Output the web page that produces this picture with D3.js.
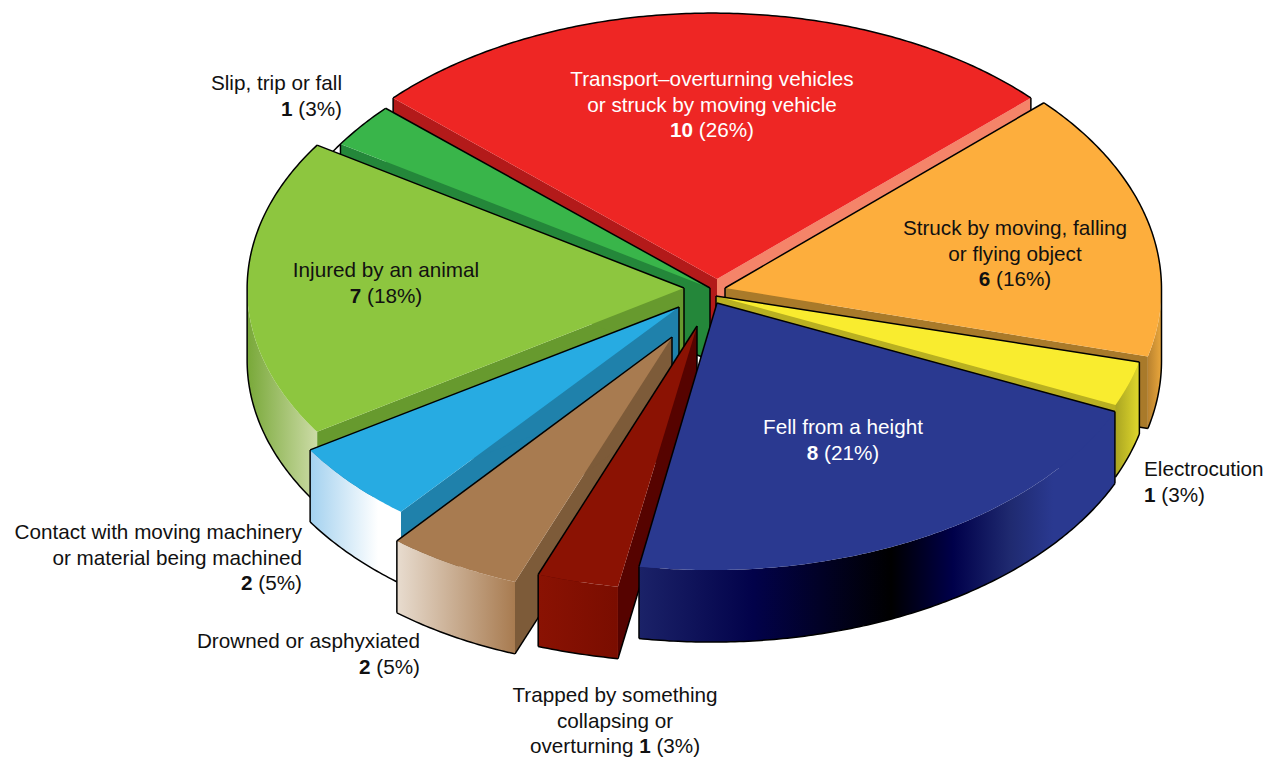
<!DOCTYPE html>
<html>
<head>
<meta charset="utf-8">
<script src="https://cdn.jsdelivr.net/npm/d3@7"></script>
<style>
  html, body { margin: 0; background: #fff; }
  text { font-family: "Liberation Sans", Arial, sans-serif; font-size: 20.7px; }
</style>
</head>
<body>
<div id="chart"></div>
<script>
"use strict";

// clockwise from the top
var causes = ["Transport", "Struck", "Electrocution", "Fell", "Trapped", "Drowned", "Contact", "Animal", "Slip"];
var deaths = [10, 6, 1, 8, 1, 2, 2, 7, 1];

// text lines per slice, the count and percent are appended to the last line
var labelLines = [
  ["Transport\u2013overturning vehicles", "or struck by moving vehicle", ""],
  ["Struck by moving, falling", "or flying object", ""],
  ["Electrocution", ""],
  ["Fell from a height", ""],
  ["Trapped by something", "collapsing or", "overturning "],
  ["Drowned or asphyxiated", ""],
  ["Contact with moving machinery", "or material being machined", ""],
  ["Injured by an animal", ""],
  ["Slip, trip or fall", ""]
];

var topColors  = ["#ee2624", "#fdae3d", "#f9ec2f", "#2a3990", "#8b1203", "#a87b50", "#27abe2", "#8dc63f", "#39b54a"];
var wallStart  = ["#b31a1a", "#a97a2a", "#b9b021", "#2a3990", "#560300", "#7d5b39", "#1f81ab", "#679a2e", "#24873a"];
var wallEnd    = ["#f58469", "#a97a2a", "#b9b021", "#2a3990", "#560300", "#7d5b39", "#1f81ab", "#679a2e", "#24873a"];
var textColors = ["#fff", "#111", "#111", "#fff", "#111", "#111", "#111", "#111", "#111"];

// gradients of the outer wall, left to right
var rimStops = [
  [],
  [[0, "#b9822f"], [1, "#eaa73c"]],
  [[0, "#aaa522"], [1, "#e0d82c"]],
  [[0, "#1b2268"], [0.24, "#02024a"], [0.53, "#000000"], [0.66, "#00004a"], [0.78, "#1f2a70"], [0.87, "#2a3990"], [1, "#2a3990"]],
  [[0, "#8a1203"], [1, "#7a0d00"]],
  [[0, "#e8dccf"], [1, "#a87b50"]],
  [[0, "#a3d1ef"], [0.75, "#ffffff"], [1, "#ffffff"]],
  [[0, "#78a838"], [1, "#ccdba6"]],
  []
];

// how far each slice is pulled from the pie centre, and where its tip sits
var explodeX = [0, 4.5, -4, -0.5, -12, -64.5, -61, -35, 1];
var explodeY = [-14, -1, 4.5, 15, 1, 44, 20, -1.5, 4.5];
var tipX = [5, 8.5, 8, 5.5, -3, 24.5, 28, 7, -3];
var tipY = [3, -1, 1.5, -2, 35, 3, -3, -0.5, -6.5];
var radiusX = [0.974, 1, 1, 0.99, 1.12, 0.917, 0.915, 0.966, 1];
var radiusY = [0.956, 1, 1, 0.964, 1.09, 0.953, 0.93, 0.953, 1];

// paint order, back to front
var paintOrder = [0, 8, 1, 2, 7, 6, 5, 4, 3];

// label anchor: x, baseline of first line, text-anchor
var labelX = [712, 1015, 1144, 843, 615, 420, 302, 386, 342];
var labelY = [86, 235, 476, 434, 702, 648, 539, 277, 90];
var labelAnchor = ["middle", "middle", "start", "middle", "middle", "end", "end", "middle", "end"];
var lineHeight = 25.6;

var width = 1277, height = 758, depth = 72;
var centerX = 712, centerY = 290, rimA = 445, rimB = 275;

var total = d3.sum(deaths);
var startAngle = -Math.PI * deaths[0] / total;
var arcs = d3.pie().sort(null).startAngle(startAngle).endAngle(startAngle + 2 * Math.PI)(deaths);

var xUnit = d3.scaleLinear().domain([-1, 1]).range([centerX - rimA, centerX + rimA]);
var yUnit = d3.scaleLinear().domain([-1, 1]).range([centerY - rimB, centerY + rimB]);
var line = d3.line();

function rimPoint(i, t, drop) {
  return [
    centerX + explodeX[i] + (xUnit(Math.sin(t)) - centerX) * radiusX[i],
    centerY + explodeY[i] + (yUnit(-Math.cos(t)) - centerY) * radiusY[i] + (drop || 0)
  ];
}

function tipPoint(i, drop) {
  return [centerX + explodeX[i] + tipX[i], centerY + explodeY[i] + tipY[i] + (drop || 0)];
}

function sweep(i, from, to, drop) {
  var n = Math.max(2, Math.ceil(Math.abs(to - from) / 0.01));
  return d3.range(n + 1).map(function (k) {
    return rimPoint(i, from + (to - from) * k / n, drop);
  });
}

var svg = d3.select("#chart").append("svg")
  .attr("width", width).attr("height", height)
  .style("display", "block");
var defs = svg.append("defs");

rimStops.forEach(function (stops, i) {
  if (!stops.length) return;
  defs.append("linearGradient").attr("id", "rim" + i)
    .selectAll("stop").data(stops).join("stop")
    .attr("offset", function (d) { return d[0]; })
    .attr("stop-color", function (d) { return d[1]; });
});

function stroke(g, points) {
  g.append("path").attr("d", line(points))
    .attr("fill", "none").attr("stroke", "#000").attr("stroke-width", 1.5)
    .attr("stroke-linejoin", "round");
}

paintOrder.forEach(function (i) {
  var a = arcs[i], t0 = a.startAngle, t1 = a.endAngle;
  var g = svg.append("g").attr("class", "slice " + causes[i]);

  var startShown = Math.sin(t0) < 0, endShown = Math.sin(t1) > 0;

  // radial walls under the cut edges
  [[t0, wallStart[i], startShown], [t1, wallEnd[i], endShown]].forEach(function (w) {
    var corner = rimPoint(i, w[0]), cornerLow = rimPoint(i, w[0], depth);
    g.append("path")
      .attr("d", line([tipPoint(i), corner, cornerLow, tipPoint(i, depth)]) + "Z")
      .attr("fill", w[1]);
    if (w[2]) {
      stroke(g, [cornerLow, tipPoint(i, depth)]);
      if (Math.cos(w[0]) > 0) stroke(g, [corner, cornerLow]);
    }
  });
  if (startShown !== endShown) stroke(g, [tipPoint(i), tipPoint(i, depth)]);

  // outer wall, only the part facing the viewer
  var front0 = Math.max(t0, Math.PI / 2), front1 = Math.min(t1, 3 * Math.PI / 2);
  if (front1 > front0) {
    g.append("path")
      .attr("d", line(sweep(i, front0, front1).concat(sweep(i, front1, front0, depth))) + "Z")
      .attr("fill", "url(#rim" + i + ")");
  }

  // top face
  g.append("path")
    .attr("d", line([tipPoint(i)].concat(sweep(i, t0, t1))) + "Z")
    .attr("fill", topColors[i]);

  // silhouette: top arc at the back, bottom arc at the front
  if (t0 < Math.PI / 2) {
    stroke(g, sweep(i, t0, Math.min(t1, Math.PI / 2)).concat(t1 > Math.PI / 2 ? sweep(i, Math.PI / 2, t1, depth) : []));
  } else if (t1 > 3 * Math.PI / 2) {
    stroke(g, sweep(i, t0, 3 * Math.PI / 2, depth).concat(sweep(i, 3 * Math.PI / 2, t1)));
  } else {
    stroke(g, sweep(i, t0, t1, depth));
  }

  // cut edges that sit in front of a neighbour
  if (!startShown) stroke(g, [tipPoint(i), rimPoint(i, t0)]);
  if (!endShown) stroke(g, [tipPoint(i), rimPoint(i, t1)]);
  if (!startShown && Math.cos(t0) < 0) stroke(g, [rimPoint(i, t0), rimPoint(i, t0, depth)]);
  if (!endShown && Math.cos(t1) < 0) stroke(g, [rimPoint(i, t1), rimPoint(i, t1, depth)]);
});

// labels
labelLines.forEach(function (lines, i) {
  var text = svg.append("text")
    .attr("text-anchor", labelAnchor[i])
    .attr("fill", textColors[i]);
  lines.forEach(function (ln, k) {
    var row = text.append("tspan").attr("x", labelX[i]).attr("y", labelY[i] + k * lineHeight);
    if (k < lines.length - 1) {
      row.text(ln);
    } else {
      // the bold count has to be a child of the positioned row or an empty row loses its place
      row.append("tspan").text(ln);
      row.append("tspan").attr("font-weight", "bold").text(deaths[i]);
      row.append("tspan").text(" (" + Math.round(deaths[i] / total * 100) + "%)");
    }
  });
});
</script>
</body>
</html>
